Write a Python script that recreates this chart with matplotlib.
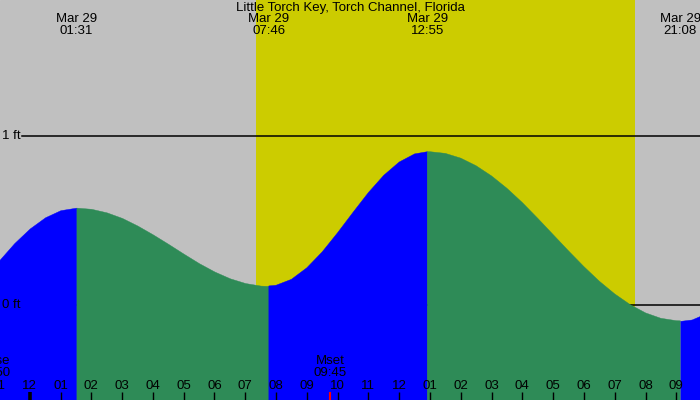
import matplotlib
matplotlib.use("Agg")
import matplotlib.pyplot as plt
import matplotlib.transforms as mtransforms
import numpy as np

title = "Little Torch Key, Torch Channel, Florida"

# Tide readings: hours since midnight Mar 29, height in feet
tide_hours = [-1.0, -0.5, 0.0, 0.5, 1.0, 1.517,
              2.0, 2.5, 3.0, 3.5, 4.0, 4.5, 5.0, 5.5, 6.0, 6.5, 7.0, 7.5, 7.767,
              8.0, 8.5, 9.0, 9.5, 10.0, 10.5, 11.0, 11.5, 12.0, 12.5, 12.917,
              13.0, 13.5, 14.0, 14.5, 15.0, 15.5, 16.0, 16.5, 17.0, 17.5, 18.0,
              18.5, 19.0, 19.5, 20.0, 20.5, 21.0, 21.133, 21.5, 22.0]
tide_feet = [0.265, 0.368, 0.454, 0.520, 0.562, 0.577,
             0.570, 0.549, 0.516, 0.471, 0.419, 0.363, 0.305, 0.249, 0.200, 0.160, 0.132, 0.117, 0.115,
             0.119, 0.154, 0.222, 0.316, 0.429, 0.549, 0.666, 0.768, 0.846, 0.894, 0.907,
             0.907, 0.897, 0.869, 0.824, 0.764, 0.691, 0.607, 0.514, 0.418, 0.322, 0.229,
             0.143, 0.068, 0.005, -0.044, -0.076, -0.090, -0.091, -0.083, -0.044]

extreme_dates = ["Mar 29", "Mar 29", "Mar 29", "Mar 29"]
extreme_times = ["01:31", "07:46", "12:55", "21:08"]
extreme_kinds = ["H", "L", "H", "L"]

sunrise_time = "07:20"
sunset_time = "19:40"

moon_names = ["Mrise", "Mset"]
moon_times = ["22:50", "09:45"]
moon_day_offset = [-1, 0]

hour_ticks = list(range(-1, 22))
hour_labels = ["11", "12", "01", "02", "03", "04", "05", "06", "07", "08", "09", "10",
               "11", "12", "01", "02", "03", "04", "05", "06", "07", "08", "09"]

y_levels = [0, 1]
y_level_labels = ["0 ft", "1 ft"]


def to_hours(s, offset=0):
    h, m = s.split(":")
    return int(h) + int(m) / 60.0 + 24 * offset


GRAY = "#c0c0c0"
YELLOW = "#cccc00"
BLUE = "#0000ff"
GREEN = "#2e8b57"

W, H = 700, 400
fig = plt.figure(figsize=(7, 4), dpi=100)
ax = fig.add_axes([0, 0, 1, 1])
x0, x1 = -0.965, 21.77
y0, y1 = -0.558, 1.802
ax.set_xlim(x0, x1)
ax.set_ylim(y0, y1)
ax.set_axis_off()
ax.add_patch(plt.Rectangle((0, 0), 1, 1, transform=ax.transAxes, color=GRAY, zorder=0))

ax.axvspan(to_hours(sunrise_time), to_hours(sunset_time), color=YELLOW, lw=0, zorder=1)

for lvl in y_levels:
    ax.axhline(lvl, xmin=22 / W, xmax=1, color="black", lw=1.1, zorder=2 if lvl == 0 else 5)

t = np.array(tide_hours)
h = np.array(tide_feet)
ext_h = [to_hours(s) for s in extreme_times]
bounds = [t[0]] + ext_h + [t[-1]]
for i in range(len(bounds) - 1):
    a, b = bounds[i], bounds[i + 1]
    if i < len(extreme_kinds):
        col = BLUE if extreme_kinds[i] == "H" else GREEN
    else:
        col = BLUE if extreme_kinds[-1] == "L" else GREEN
    m = (t >= a - 0.01) & (t <= b + 0.01)
    ax.fill_between(t[m], y0 - 1, h[m], color=col, lw=0.3, edgecolor=col, zorder=3)

trans = mtransforms.blended_transform_factory(ax.transData, ax.transAxes)
font = dict(family=["Liberation Sans", "DejaVu Sans"], fontsize=9.5, color="black")


def ypix(p):
    return 1 - p / H


ax.text((x0 + x1) / 2, ypix(8), title, transform=trans, ha="center", va="center", zorder=6, **font)
for d, s in zip(extreme_dates, extreme_times):
    x = to_hours(s)
    ax.text(x, ypix(19.5), d, transform=trans, ha="center", va="center", zorder=6, **font)
    ax.text(x, ypix(31.5), s, transform=trans, ha="center", va="center", zorder=6, **font)

for lvl, lab in zip(y_levels, y_level_labels):
    ax.text(2 / W, lvl, lab, transform=mtransforms.blended_transform_factory(ax.transAxes, ax.transData),
            ha="left", va="center", zorder=6, **font)

for name, s, off in zip(moon_names, moon_times, moon_day_offset):
    x = to_hours(s, off)
    ax.text(x, ypix(361), name, transform=trans, ha="center", va="center", zorder=6, **font)
    ax.text(x, ypix(373.5), s, transform=trans, ha="center", va="center", zorder=6, **font)
    if name == "Mset":
        ax.plot([x, x], [ypix(392), 0], transform=trans, color="red", lw=1.5, zorder=6,
                solid_capstyle="butt")

for hr, lab in zip(hour_ticks, hour_labels):
    ax.text(hr, ypix(386), lab, transform=trans, ha="center", va="center", zorder=6, **font)
    ax.plot([hr, hr], [ypix(392), 0], transform=trans, color="black",
            lw=2.6 if hr == 0 else 1.0, zorder=6, solid_capstyle="butt")

fig.savefig("out.png", dpi=100)
